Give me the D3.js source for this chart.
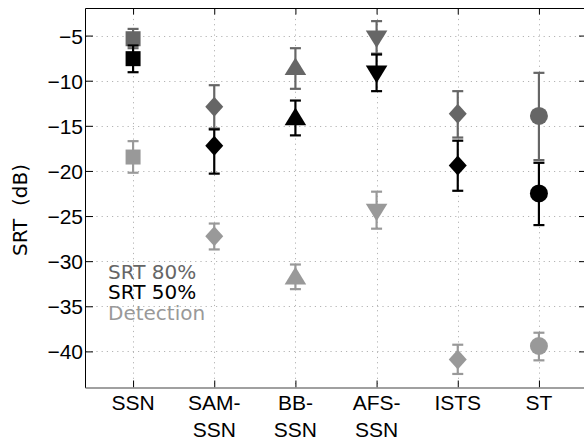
<!DOCTYPE html>
<html><head><meta charset="utf-8">
<script src="https://cdn.jsdelivr.net/npm/d3@7"></script>
<style>body{margin:0;background:#fff}svg{display:block}</style>
</head><body><svg id="c" width="584" height="441"></svg>
<script>
// ---- data ----
const categories = [["SSN"], ["SAM-", "SSN"], ["BB-", "SSN"], ["AFS-", "SSN"], ["ISTS"], ["ST"]];
const markerShapes = ["square", "diamond", "triangleUp", "triangleDown", "diamond", "circle"];
const seriesNames = ["SRT 80%", "SRT 50%", "Detection"];
const seriesColors = ["#666666", "#000000", "#999999"];

const srt80 =    [-5.35, -12.9, -8.4, -5.4, -13.66, -13.9];
const srt80Hi =  [-4.26, -10.5, -6.4, -3.4, -11.16, -9.13];
const srt80Lo =  [-6.4, -15.3, -10.9, -7.0, -16.3, -18.8];

const srt50 =    [-7.56, -17.2, -13.95, -9.3, -19.4, -22.5];
const srt50Hi =  [-6.1, -15.4, -12.2, -7.1, -16.65, -19.1];
const srt50Lo =  [-9.06, -20.3, -16.06, -11.16, -22.2, -26.0];

const detect =   [-18.46, -27.23, -31.6, -24.6, -40.9, -39.4];
const detectHi = [-16.7, -25.83, -30.37, -22.3, -39.26, -37.93];
const detectLo = [-20.2, -28.7, -33.1, -26.4, -42.5, -40.99];

const yTicks = [-40, -35, -30, -25, -20, -15, -10, -5];
const yLabel = "SRT (dB)";

// ---- layout ----
const svg = d3.select("#c");
const L = 86, R = 586, T = 8.5, B = 387.5;
const x = d3.scaleLinear().domain([0.42, 6.58]).range([L, R]);
const y = d3.scaleLinear().domain([-44, -2]).range([B, T]);
const xIdx = categories.map((d, i) => i + 1);

// grid
const grid = svg.append("g").attr("stroke", "#b4b4b4").attr("stroke-width", 1).attr("stroke-dasharray", "1.2,4");
grid.selectAll(".gx").data(xIdx).join("line")
  .attr("x1", d => Math.round(x(d)) + 0.5).attr("x2", d => Math.round(x(d)) + 0.5)
  .attr("y1", T).attr("y2", B);
grid.selectAll(".gy").data(yTicks).join("line")
  .attr("y1", d => Math.round(y(d)) + 0.5).attr("y2", d => Math.round(y(d)) + 0.5)
  .attr("x1", L).attr("x2", R);

// axes
const tickFont = "'Liberation Sans', Arial, sans-serif";
const ax = svg.append("g");
const axLeft = ax.append("g").attr("transform", `translate(${L},0)`)
  .call(d3.axisLeft(y).tickValues(yTicks).tickSizeInner(-7).tickSizeOuter(0).tickPadding(3));
ax.append("g").attr("transform", `translate(${R},0)`)
  .call(d3.axisRight(y).tickValues(yTicks).tickSizeInner(-7).tickSizeOuter(0).tickFormat(""));
ax.append("g").attr("transform", `translate(0,${B})`)
  .call(d3.axisBottom(x).tickValues(xIdx).tickSizeInner(-7).tickSizeOuter(0).tickFormat(""));
ax.append("g").attr("transform", `translate(0,${T})`)
  .call(d3.axisTop(x).tickValues(xIdx).tickSizeInner(-6).tickSizeOuter(0).tickFormat(""));
ax.selectAll(".domain").remove();
ax.selectAll(".tick line").attr("stroke", "#000").attr("stroke-width", 1);
axLeft.selectAll("text").attr("font-family", tickFont).attr("font-size", 21).attr("fill", "#000").attr("dy", "0.36em");

// spines
svg.append("line").attr("x1", L - 0.5).attr("x2", R).attr("y1", T).attr("y2", T).attr("stroke", "#000");
svg.append("line").attr("x1", L - 0.5).attr("x2", L - 0.5).attr("y1", T).attr("y2", B + 0.5).attr("stroke", "#000");
svg.append("line").attr("x1", L - 0.5).attr("x2", R).attr("y1", B + 0.5).attr("y2", B + 0.5).attr("stroke", "#808080").attr("stroke-width", 1.3);

// x labels
const xl = svg.append("g").attr("font-family", tickFont).attr("font-size", 21).attr("text-anchor", "middle");
categories.forEach((lines, i) => {
  const t = xl.append("text").attr("x", x(i + 1));
  lines.forEach((s, j) => t.append("tspan").attr("x", x(i + 1)).attr("y", B + 22.5 + j * 26.5).text(s));
});

// y label
svg.append("text").attr("transform", `translate(27,210) rotate(-90)`)
  .attr("text-anchor", "middle").attr("font-family", "'DejaVu Sans', sans-serif")
  .attr("font-size", 20).attr("style", "white-space:pre").text(yLabel.replace(" ", "  "));

// markers
function shapePath(kind, cx, cy) {
  switch (kind) {
    case "square": { const h = 7.5; return `M${cx-h},${cy-h}H${cx+h}V${cy+h}H${cx-h}Z`; }
    case "diamond": { const w = 9, h = 10; return `M${cx},${cy-h}L${cx+w},${cy}L${cx},${cy+h}L${cx-w},${cy}Z`; }
    case "triangleUp": { const w = 10.8, h = 8.8; return `M${cx},${cy-h}L${cx+w},${cy+h}L${cx-w},${cy+h}Z`; }
    case "triangleDown": { const w = 10.8, h = 8.8; return `M${cx},${cy+h}L${cx+w},${cy-h}L${cx-w},${cy-h}Z`; }
    case "circle": { const r = 9; return `M${cx-r},${cy}a${r},${r} 0 1,0 ${2*r},0a${r},${r} 0 1,0 ${-2*r},0Z`; }
  }
}

const series = [
  {vals: srt80, hi: srt80Hi, lo: srt80Lo, color: seriesColors[0]},
  {vals: srt50, hi: srt50Hi, lo: srt50Lo, color: seriesColors[1]},
  {vals: detect, hi: detectHi, lo: detectLo, color: seriesColors[2]},
];
const marks = svg.append("g");
series.forEach(s => {
  const g = marks.append("g");
  const idx = d3.range(s.vals.length);
  g.selectAll(".eb").data(idx).join("line")
    .attr("x1", i => x(i + 1)).attr("x2", i => x(i + 1))
    .attr("y1", i => y(s.hi[i])).attr("y2", i => y(s.lo[i]))
    .attr("stroke", s.color).attr("stroke-width", 2.2);
  ["hi", "lo"].forEach(k => {
    g.selectAll(".cap" + k).data(idx).join("line")
      .attr("x1", i => x(i + 1) - 5.5).attr("x2", i => x(i + 1) + 5.5)
      .attr("y1", i => y(s[k][i])).attr("y2", i => y(s[k][i]))
      .attr("stroke", s.color).attr("stroke-width", 2.2);
  });
  g.selectAll(".mk").data(idx).join("path")
    .attr("d", i => shapePath(markerShapes[i], x(i + 1), y(s.vals[i])))
    .attr("fill", s.color);
});

// legend text
const lg = svg.append("g").attr("font-family", "'DejaVu Sans', sans-serif").attr("font-size", 20);
seriesNames.forEach((n, i) => {
  lg.append("text").attr("x", 108).attr("y", 278.5 + i * 20.5).attr("fill", seriesColors[i]).text(n);
});
</script></body></html>
